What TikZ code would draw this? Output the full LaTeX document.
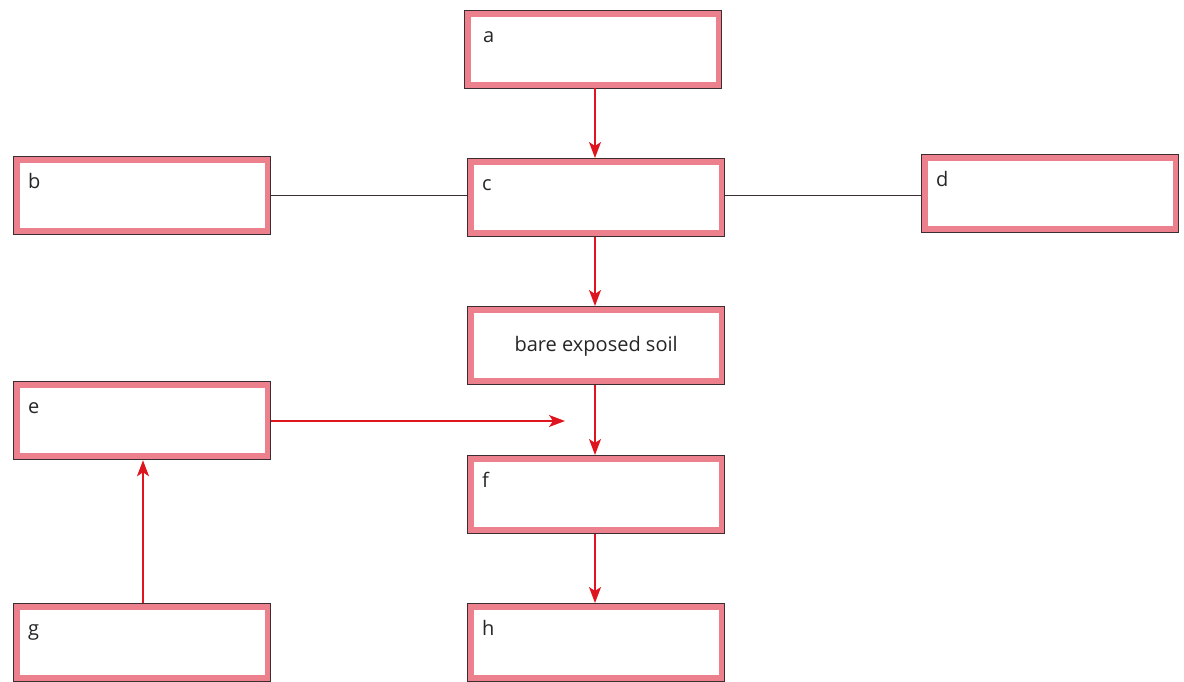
\documentclass[tikz,border=0pt]{standalone}
\usepackage{fontspec}
\setmainfont{Open Sans}
\usetikzlibrary{arrows.meta}
\definecolor{bandpink}{RGB}{236,128,140}
\definecolor{edgegray}{RGB}{60,45,50}
\definecolor{flowred}{RGB}{222,20,30}
\begin{document}
\begin{tikzpicture}[x=1pt,y=-1pt,
  stagebox/.style={rectangle, draw=edgegray, line width=1.3pt, fill=bandpink,
    minimum width=257pt, minimum height=78pt, inner sep=0pt, anchor=north west,
    path picture={\fill[white] ([shift={(6pt,-6pt)}]path picture bounding box.north west)
      rectangle ([shift={(-6pt,7pt)}]path picture bounding box.south east);}},
  tag/.style={anchor=base west, inner sep=0pt, font=\fontsize{20}{24}\selectfont, text=black!85},
  flow/.style={draw=flowred, line width=1.4pt, -{Stealth[length=16pt,width=12pt,inset=4pt]}},
  tie/.style={draw=edgegray, line width=1pt}]
\useasboundingbox (0,0) rectangle (1184,681);
% boxes
\node[stagebox] (a) at (464,10) {};
\node[stagebox] (c) at (467,158) {};
\node[stagebox] (b) at (13,156) {};
\node[stagebox] (d) at (921,154) {};
\node[stagebox] (s) at (467,306) {};
\node[stagebox] (e) at (13,381) {};
\node[stagebox] (f) at (467,455) {};
\node[stagebox] (g) at (13,603) {};
\node[stagebox] (h) at (467,603) {};
% labels
\node[tag] (ta) at ([shift={(19pt,-32pt)}]a.north west) {a};
\node[tag] (tb) at ([shift={(15pt,-32pt)}]b.north west) {b};
\node[tag] (tc) at ([shift={(15pt,-32pt)}]c.north west) {c};
\node[tag] (td) at ([shift={(15pt,-32pt)}]d.north west) {d};
\node[tag] (te) at ([shift={(15pt,-32pt)}]e.north west) {e};
\node[tag] (tf) at ([shift={(15pt,-32pt)}]f.north west) {f};
\node[tag] (tg) at ([shift={(15pt,-32pt)}]g.north west) {g};
\node[tag] (th) at ([shift={(15pt,-32pt)}]h.north west) {h};
\node[inner sep=0pt, font=\fontsize{20}{24}\selectfont, text=black!85] (ts) at ([yshift=-1pt]s.center) {bare exposed soil};
% connectors
\coordinate (m) at (565,421);
\draw[tie] (b.east |- 0,195) -- (c.west |- 0,195);
\draw[tie] (c.east |- 0,195) -- (d.west |- 0,195);
\draw[flow] (595,88) -- (c.north -| 595,0);
\draw[flow] (c.south -| 595,0) -- (s.north -| 595,0);
\draw[flow] (s.south -| 595,0) -- (f.north -| 595,0);
\draw[flow] (f.south -| 595,0) -- (h.north -| 595,0);
\draw[flow] (e.east |- m) -- (m);
\draw[flow] (g.north -| 143,0) -- (e.south -| 143,0);
\end{tikzpicture}
\end{document}
